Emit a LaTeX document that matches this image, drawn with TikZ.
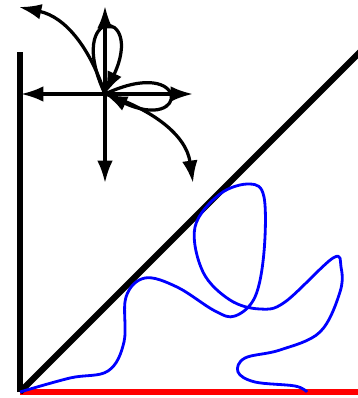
\documentclass[tikz,border=0pt]{standalone}
\usepackage{tikz}
\usetikzlibrary{arrows.meta}

\begin{document}
\begin{tikzpicture}[x=0.25cm,y=0.25cm,
  vec/.style={line width=2.3pt,-{Latex[length=5.6mm,width=3.9mm]}},
  wall/.style={line width=4.3pt},
  path/.style={line width=2pt,blue,line join=round}]
\useasboundingbox (-2,-0.6) rectangle (33.8,39.2);
% floor, wall and diagonal
\coordinate (o) at (0,0);
\coordinate (wtop) at (0,34);
\coordinate (fend) at (34.5,0);
\coordinate (dend) at (34.5,34.5);
\draw[line width=4.3pt,red] (o) -- (fend);
\draw[wall] (o) -- (wtop);
\draw[wall] (o) -- (dend);
% directions at the point
\coordinate (c) at (8.5,29.8);
\foreach \n/\p in {up/{8.5,38.6},dn/{8.5,20.9},lt/{0.1,29.8},rt/{17.3,29.8}}{
  \coordinate (\n) at (\p);
  \draw[vec] (c) -- (\n);
}
\coordinate (ul) at (-0.1,38.5);
\coordinate (dr) at (17.3,20.9);
\draw[vec] (c) to[out=108,in=-12] (ul);
\draw[vec] (c) to[out=-18,in=98] (dr);
\draw[vec] (c) .. controls +(115:9.7) and +(65:9.7) .. (c);
\draw[vec] (c) .. controls +(25:9.4) and +(-25:9.4) .. (c);
% trajectory
\draw[path] plot[smooth,tension=0.6] coordinates {
 (0,0) (5,1.4) (8.8,2.1) (10.4,5) (10.6,9.5) (12.5,11.4) (15.7,10.5)
 (19.5,8.1) (21.5,7.6) (23.5,9.5) (24.4,14) (24.4,19.5) (23,20.8)
 (20,19.8) (17.5,16.5) (18.3,12) (21,9.2) (24,8.3) (26.5,9) (31.3,13.4)
 (32.1,12.5) (32,10) (30,6) (26,4.2) (22.5,3.4) (21.8,2) (23.5,1)
 (27.5,0.6) (28.7,0)};
\end{tikzpicture}
\end{document}
